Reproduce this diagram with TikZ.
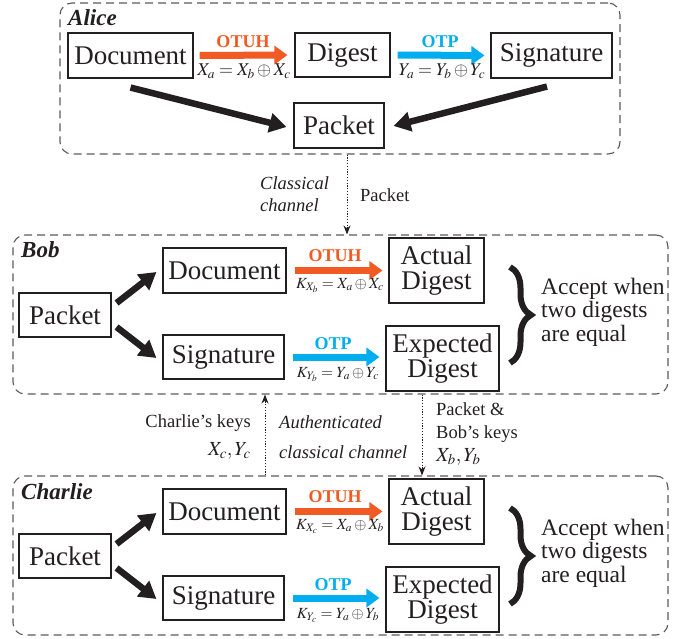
\documentclass[tikz,border=0pt]{standalone}
\usepackage{mathptmx}
\usepackage[no-math]{fontspec}
\setmainfont{Liberation Serif}
\usetikzlibrary{arrows.meta,decorations.pathreplacing,calc}
\definecolor{textc}{HTML}{231F20}
\definecolor{dashc}{HTML}{5A5A5A}
\definecolor{otuhc}{HTML}{F15A22}
\definecolor{otpc}{HTML}{00AEEF}
\tikzset{
  box/.style={draw=textc, line width=1.1pt, inner sep=0pt, text=textc, align=center,
    font=\fontsize{27}{25}\selectfont},
  panel/.style={draw=dashc, dash pattern=on 8pt off 5pt, line width=1.1pt,
    rounded corners=12pt, inner sep=0pt},
  who/.style={font=\fontsize{23}{23}\selectfont\bfseries\itshape, text=textc, inner sep=0pt},
  otuhlbl/.style={font=\fontsize{18}{18}\selectfont\bfseries, text=otuhc, inner sep=0pt},
  otplbl/.style={font=\fontsize{18}{18}\selectfont\bfseries, text=otpc, inner sep=0pt},
  fmlA/.style={font=\fontsize{18}{18}\selectfont, text=textc, inner sep=0pt, anchor=base},
  fmlB/.style={font=\fontsize{15.5}{15.5}\selectfont, text=textc, inner sep=0pt, anchor=base},
  small/.style={font=\fontsize{18.5}{23}\selectfont, text=textc, inner sep=0pt, align=left},
  smallit/.style={font=\fontsize{18.5}{30}\selectfont\itshape, text=textc, inner sep=0pt, align=left},
  accept/.style={font=\fontsize{23.5}{23.5}\selectfont, text=textc, inner sep=0pt, align=left},
  fat/.style={draw=textc, line width=6.5pt, -{Triangle[length=17pt,width=19pt]}},
  otuharrow/.style={draw=otuhc, line width=7pt, -{Triangle[length=13pt,width=18pt]}},
  otparrow/.style={draw=otpc, line width=7pt, -{Triangle[length=13pt,width=18pt]}},
  dotarrow/.style={draw=textc, line width=1pt, dash pattern=on 1.2pt off 1.6pt,
    -{Stealth[length=9pt,width=7pt]}},
  bracestyle/.style={draw=textc, line width=6pt, decorate,
    decoration={brace, amplitude=21pt}},
}
\begin{document}
\begin{tikzpicture}[x=1pt,y=-1pt]
\useasboundingbox (0,0) rectangle (696,639);

% ---------------- Alice ----------------
\node[panel, minimum width=560pt, minimum height=151pt] (alice) at (340,78.5) {};
\node[who, anchor=base west] (alicelbl) at (68,26) {Alice};
\node[box, minimum width=125pt, minimum height=45pt] (adoc) at (130.5,55.5) {Document};
\node[box, minimum width=95pt, minimum height=44pt] (adig) at (342.5,55) {Digest};
\node[box, minimum width=121pt, minimum height=45pt] (asig) at (551.5,55.5) {Signature};
\node[box, minimum width=90pt, minimum height=45pt] (apack) at (339,125.5) {Packet};
\draw[otuharrow, shorten <=6pt, shorten >=7pt] (adoc.east) -- (adig.west);
\draw[otparrow, shorten <=7pt, shorten >=6pt] (adig.east) -- (asig.west);
\node[otuhlbl] (aotuh) at (243,42) {OTUH};
\node[otplbl] (aotp) at (440,42) {OTP};
\node[fmlA] (af1) at (244,76) {$X_a = X_b \oplus X_c$};
\node[fmlA] (af2) at (442,76) {$Y_a = Y_b \oplus Y_c$};
\draw[fat] ($(adoc.south)+(0,9)$) -- ($(apack.west)+(-7,1.5)$);
\draw[fat] ($(asig.south)+(-4.5,8)$) -- ($(apack.east)+(9,0.5)$);

% ---------------- Bob ----------------
\node[panel, minimum width=655pt, minimum height=159pt] (bob) at (340.5,314.5) {};
\node[who, anchor=base west] (boblbl) at (21,258) {Bob};
\node[box, minimum width=92pt, minimum height=44pt] (bpack) at (65,315) {Packet};
\node[box, minimum width=123pt, minimum height=45pt] (bdoc) at (224.5,270.5) {Document};
\node[box, minimum width=121pt, minimum height=44pt] (bsig) at (223.5,357) {Signature};
\node[box, minimum width=95pt, minimum height=65pt] (bact) at (436.5,270.5) {Actual\\Digest};
\node[box, minimum width=113pt, minimum height=65pt] (bexp) at (442.5,358.5) {Expected\\Digest};
\draw[fat] ($(bpack.east)+(5,-12)$) -- ($(bdoc.west)+(-6,1.5)$);
\draw[fat] ($(bpack.east)+(5,12)$) -- ($(bsig.west)+(-6,1)$);
\draw[otuharrow, shorten <=8pt, shorten >=6pt] (bdoc.east) -- (bact.west |- bdoc.east);
\draw[otparrow, shorten <=8pt, shorten >=6pt] (bsig.east) -- (bexp.west |- bsig.east);
\node[otuhlbl] (botuh) at (335,256) {OTUH};
\node[otplbl] (botp) at (333,344) {OTP};
\node[fmlB] (bf1) at (340,288) {$K_{X_b} = X_a \oplus X_c$};
\node[fmlB] (bf2) at (338,377) {$K_{Y_b} = Y_a \oplus Y_c$};
\draw[bracestyle] (510,267) -- (510,363);
\node[accept, anchor=west] (bacc) at (541,312) {Accept when\\two digests\\are equal};

% ---------------- classical channel ----------------
\coordinate (cc) at (347,0);
\draw[dotarrow] (alice.south -| cc) -- (bob.north -| cc);
\node[smallit, anchor=west, font=\fontsize{18.5}{22}\selectfont\itshape] (cclbl) at (260,194) {Classical\\channel};
\node[small, anchor=west] (cpk) at (360,195) {Packet};

% ---------------- Charlie ----------------
\node[panel, minimum width=655pt, minimum height=159pt] (charlie) at (340.5,555.5) {};
\node[who, anchor=base west] (charlielbl) at (21,499) {Charlie};
\node[box, minimum width=92pt, minimum height=44pt] (cpack) at (65,556) {Packet};
\node[box, minimum width=123pt, minimum height=45pt] (cdoc) at (224.5,511.5) {Document};
\node[box, minimum width=121pt, minimum height=44pt] (csig) at (223.5,598) {Signature};
\node[box, minimum width=95pt, minimum height=65pt] (cact) at (436.5,511.5) {Actual\\Digest};
\node[box, minimum width=113pt, minimum height=65pt] (cexp) at (442.5,599.5) {Expected\\Digest};
\draw[fat] ($(cpack.east)+(5,-12)$) -- ($(cdoc.west)+(-6,1.5)$);
\draw[fat] ($(cpack.east)+(5,12)$) -- ($(csig.west)+(-6,1)$);
\draw[otuharrow, shorten <=8pt, shorten >=6pt] (cdoc.east) -- (cact.west |- cdoc.east);
\draw[otparrow, shorten <=8pt, shorten >=6pt] (csig.east) -- (cexp.west |- csig.east);
\node[otuhlbl] (cotuh) at (335,497) {OTUH};
\node[otplbl] (cotp) at (333,585) {OTP};
\node[fmlB] (cf1) at (340,529) {$K_{X_c} = X_a \oplus X_b$};
\node[fmlB] (cf2) at (338,618) {$K_{Y_c} = Y_a \oplus Y_b$};
\draw[bracestyle] (510,508) -- (510,604);
\node[accept, anchor=west] (cacc) at (541,553) {Accept when\\two digests\\are equal};

% ---------------- Bob <-> Charlie channel ----------------
\coordinate (uc) at (265,0);
\coordinate (dc) at (422,0);
\draw[dotarrow] (charlie.north -| uc) -- (bob.south -| uc);
\draw[dotarrow] (bob.south -| dc) -- (charlie.north -| dc);
\node[small, anchor=east, align=right] (ckeys) at (251,423) {Charlie's keys};
\node[small, anchor=east, font=\fontsize{20}{20}\selectfont] (ckeysm) at (251,451) {$X_c, Y_c$};
\node[smallit, anchor=west] (authlbl) at (279,437) {Authenticated\\classical channel};
\node[small, anchor=north west] (bkeys) at (436,402) {Packet \&\\Bob's keys};
\node[small, anchor=west, font=\fontsize{20}{20}\selectfont] (bkeysm) at (436,457) {$X_b, Y_b$};
\end{tikzpicture}
\end{document}
